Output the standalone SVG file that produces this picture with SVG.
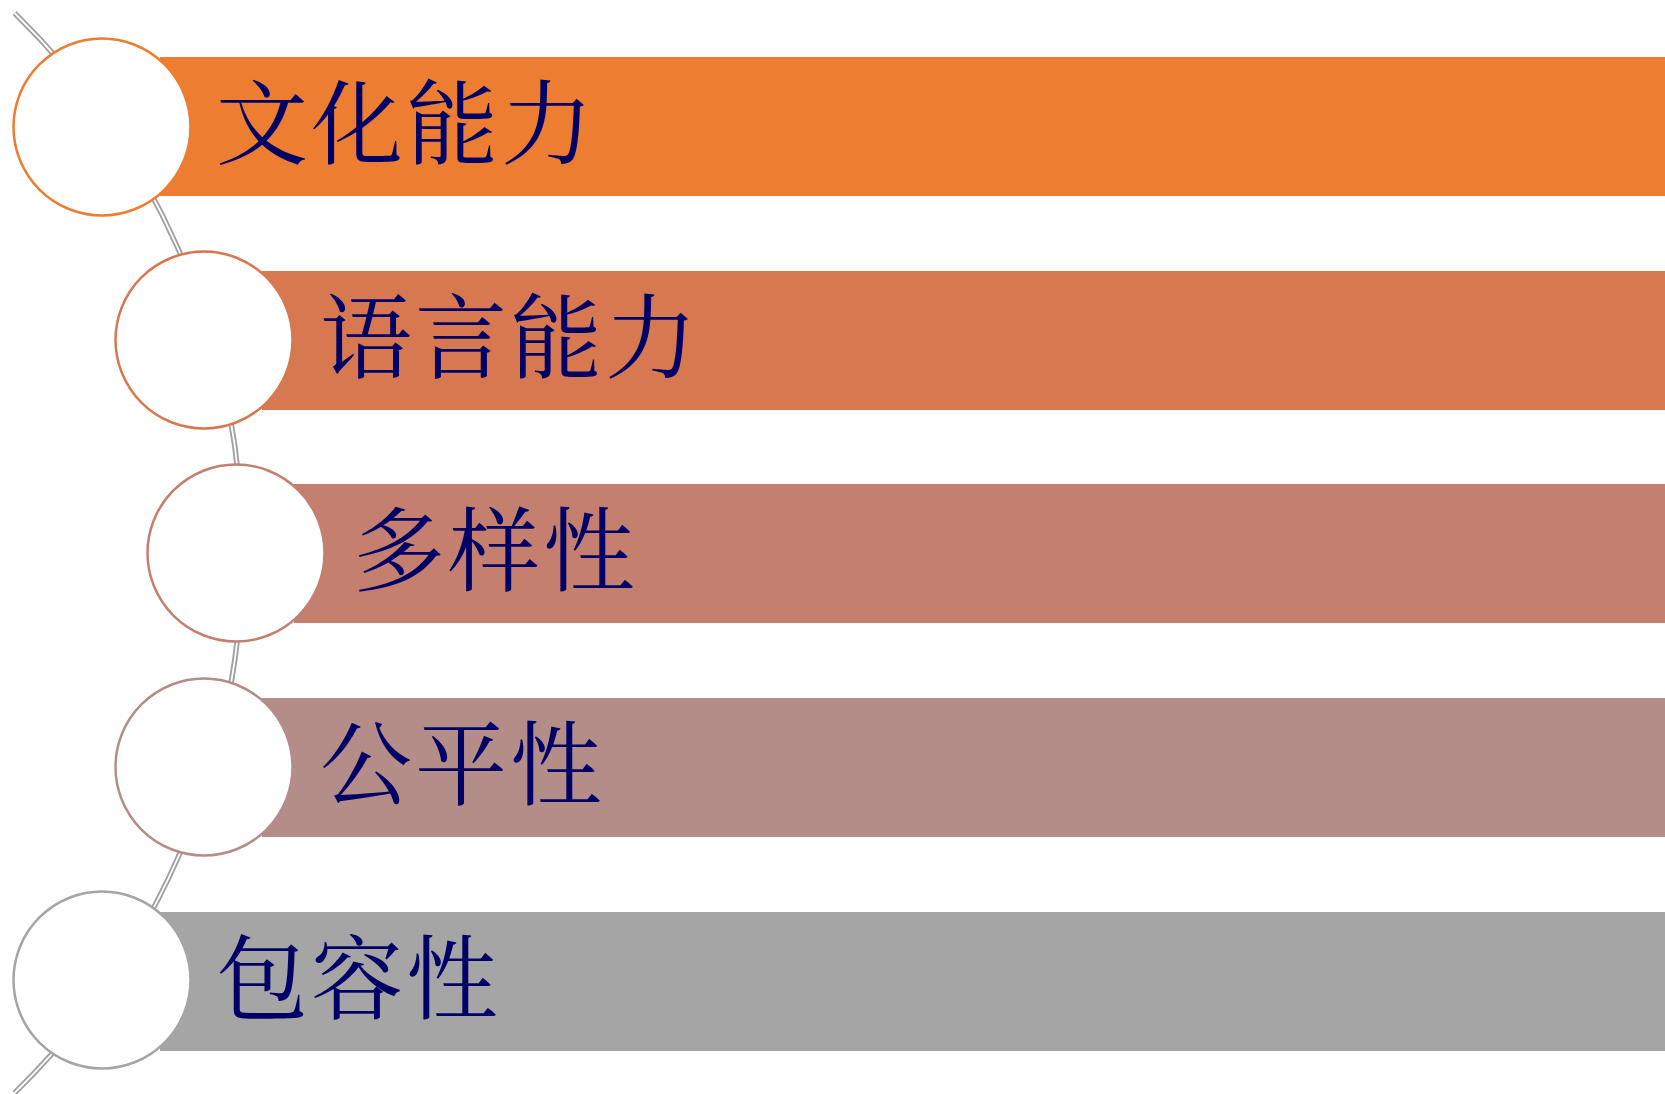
<svg xmlns="http://www.w3.org/2000/svg" width="1665" height="1094" viewBox="0 0 1665 1094">
<style>
.lbl{font-family:"Noto Serif CJK SC","Noto Sans CJK SC",serif;font-size:92px;fill:#000066;letter-spacing:3px}
.ring{fill:#ffffff;stroke-width:2.5}
</style>
<rect width="1665" height="1094" fill="#ffffff"/>
<g id="connectors">
<path d="M 14.5 13 A 754 754 0 0 1 14.5 1093" fill="none" stroke="#a0a0a0" stroke-width="5.5"/>
<path d="M 14.5 13 A 754 754 0 0 1 14.5 1093" fill="none" stroke="#ffffff" stroke-width="1.8"/>
</g>
<g id="node1">
<rect x="160" y="57" width="1505" height="139" fill="#ED7D31"/>
<circle cx="102" cy="127" r="88.5" class="ring" stroke="#ED7D31"/>
<text x="216" y="157" class="lbl">文化能力</text>
</g>
<g id="node2">
<rect x="262" y="271" width="1403" height="139" fill="#D77850"/>
<circle cx="204" cy="340" r="88.5" class="ring" stroke="#D77850"/>
<text x="320" y="371" class="lbl">语言能力</text>
</g>
<g id="node3">
<rect x="294" y="484" width="1371" height="139" fill="#C47F6F"/>
<circle cx="236" cy="553" r="88.5" class="ring" stroke="#C47F6F"/>
<text x="353" y="584" class="lbl">多样性</text>
</g>
<g id="node4">
<rect x="262" y="698" width="1403" height="139" fill="#B48D89"/>
<circle cx="204" cy="767" r="88.5" class="ring" stroke="#B48D89"/>
<text x="320" y="798" class="lbl">公平性</text>
</g>
<g id="node5">
<rect x="160" y="912" width="1505" height="139" fill="#A5A5A5"/>
<circle cx="102" cy="980" r="88.5" class="ring" stroke="#A5A5A5"/>
<text x="216" y="1012" class="lbl">包容性</text>
</g>
</svg>
